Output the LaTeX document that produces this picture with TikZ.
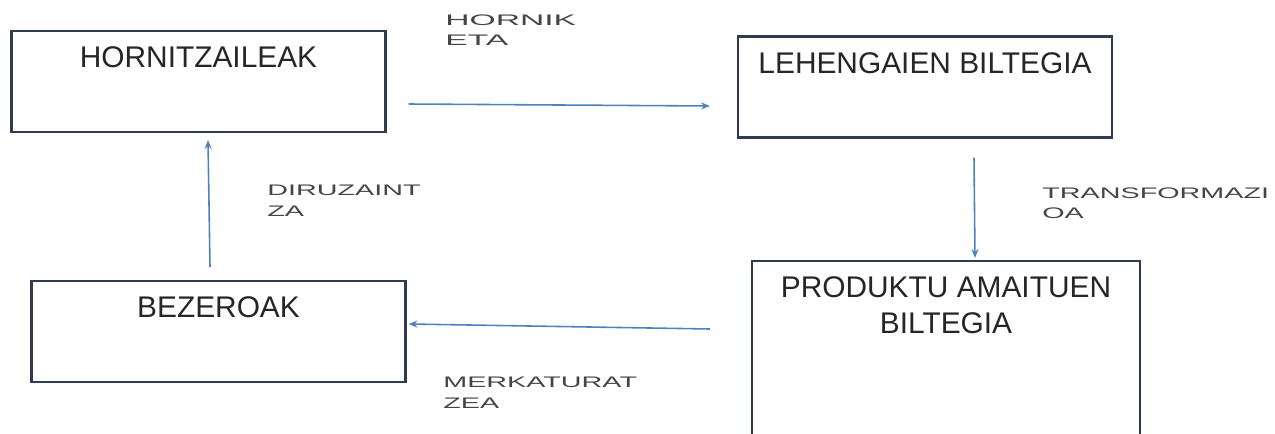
\documentclass[tikz,border=0pt]{standalone}
\usepackage{fontspec}
\setmainfont{Liberation Sans}
\newfontfamily\lblfont[FakeStretch=1.88]{Liberation Sans}
\newfontfamily\lblwidefont[FakeStretch=2.2]{Liberation Sans}
\usetikzlibrary{arrows.meta,calc}
\definecolor{boxline}{HTML}{2F3B52}
\definecolor{flowblue}{HTML}{4F81BD}
\definecolor{lblgray}{HTML}{454545}

\begin{document}
\begin{tikzpicture}
    [x=0.02cm,y=-0.02cm,
     box/.style={rectangle,draw=boxline,line width=1.3pt,fill=white,inner sep=0pt,
       minimum width=7.48cm,align=center,text=black!85,
       font=\fontsize{17}{20.4}\selectfont,text height=0.73cm,text depth=1.29cm},
     flow/.style={draw=flowblue,line width=0.9pt,-{Stealth[length=5pt,width=4pt]}},
     lbl/.style={anchor=north west,inner sep=0pt,align=left,text=lblgray,
       font=\lblfont\fontsize{8.7}{11.9}\selectfont},
     lblwide/.style={lbl,font=\lblwidefont\fontsize{8.7}{11.9}\selectfont}]
    \clip (0,0) rectangle (1275,433);

    \node[box] (hor) at (198.5,81.5) {HORNITZAILEAK};
    \node[box] (leh) at (925,87) {LEHENGAIEN BILTEGIA};
    \node[box,minimum width=7.76cm,text height=1.45cm,text depth=2.15cm] (prod) at (946,351) {PRODUKTU AMAITUEN\\BILTEGIA};
    \node[box] (bez) at (218.5,331.5) {BEZEROAK};

    \draw[flow] ($(hor.east)+(22,22.5)$) -- ($(leh.west)+(-27,19)$);
    \draw[flow] ($(leh.south)+(49,19)$) -- ($(prod.north)+(29,-2)$);
    \draw[flow] ($(prod.west)+(-41,-22)$) -- ($(bez.east)+(2,-7.5)$);
    \draw[flow] ($(bez.north)+(-8.5,-13)$) -- ($(hor.south)+(9.5,7)$);

    \node[lblwide] (hornik) at (445,14) {HORNIK\\ETA};
    \node[lbl] (diru) at (267,185) {DIRUZAINT\\ZA};
    \node[lbl] (trans) at (1042,187) {TRANSFORMAZI\\OA};
    \node[lbl] (merk) at (443,377) {MERKATURAT\\ZEA};
\end{tikzpicture}
\end{document}
